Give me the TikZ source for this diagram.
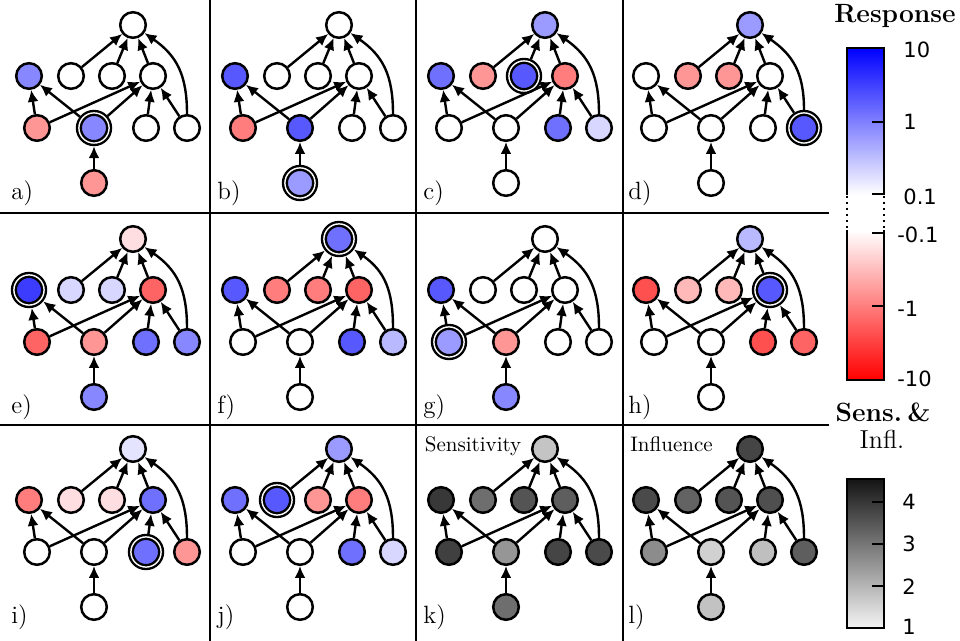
\documentclass[tikz,border=0pt]{standalone}
\usepackage{fontspec}
\newfontfamily\djv{DejaVu Sans}
\usetikzlibrary{arrows.meta}

\definecolor{b1}{RGB}{60,60,255}
\definecolor{b2}{RGB}{88,88,255}
\definecolor{b3}{RGB}{112,112,255}
\definecolor{b4}{RGB}{135,135,255}
\definecolor{b5}{RGB}{155,155,255}
\definecolor{b6}{RGB}{185,185,255}
\definecolor{b7}{RGB}{215,215,255}
\definecolor{b8}{RGB}{228,228,255}
\definecolor{r1}{RGB}{255,80,80}
\definecolor{r2}{RGB}{255,100,100}
\definecolor{r3}{RGB}{255,125,125}
\definecolor{r4}{RGB}{255,150,150}
\definecolor{r5}{RGB}{255,185,185}
\definecolor{r6}{RGB}{255,222,225}
\definecolor{cbblue}{RGB}{0,0,255}
\definecolor{cbbmid}{RGB}{110,110,255}
\definecolor{cbred}{RGB}{255,0,0}
\definecolor{cbrmid}{RGB}{255,125,125}

\tikzset{
  nd/.style={circle,draw,line width=1.25pt,minimum size=12.8pt,inner sep=0pt,outer sep=0.6pt},
  dblnode/.style={double,line width=1.2pt,double distance=0.7pt,minimum size=15.1pt,outer sep=1.55pt},
  dblT/.style={},dblL/.style={},dblM/.style={},dblN/.style={},dblR/.style={},
  dblA/.style={},dblB/.style={},dblC/.style={},dblD/.style={},dblE/.style={},dblX/.style={},
  ar/.style={-{Latex[length=6pt,width=5.5pt]},line width=1.2pt},
  sepline/.style={line width=1.1pt},
  plab/.style={anchor=base west,inner sep=0pt,font=\fontsize{12.5}{14}\selectfont},
  toplab/.style={anchor=base west,inner sep=0pt,font=\fontsize{10.5}{12}\selectfont},
  cbf/.style={line width=1.2pt},
  tick/.style={line width=1pt},
  ticklab/.style={anchor=west,inner sep=0pt,font=\djv\fontsize{10.5}{12}\selectfont},
  head/.style={anchor=base,inner sep=0pt,font=\fontsize{13.2}{15}\selectfont\bfseries},
  headn/.style={anchor=base,inner sep=0pt,font=\fontsize{13}{15}\selectfont}
}

\newcommand\cols[9]{\def\cT{#1}\def\cL{#2}\def\cM{#3}\def\cN{#4}\def\cR{#5}\def\cA{#6}\def\cB{#7}\def\cC{#8}\def\cD{#9}}

\newcommand\netpanel[6]{%
\begin{scope}[shift={(#2,#3)},dbl#6/.style={dblnode}]
  \node[nd,fill=\cT,dblT] (#1T) at (133,25) {};
  \node[nd,fill=\cL,dblL] (#1L) at (29,76) {};
  \node[nd,fill=\cM,dblM] (#1M) at (71,76) {};
  \node[nd,fill=\cN,dblN] (#1N) at (112,76) {};
  \node[nd,fill=\cR,dblR] (#1R) at (153,76) {};
  \node[nd,fill=\cA,dblA] (#1A) at (37,128) {};
  \node[nd,fill=\cB,dblB] (#1B) at (94,128) {};
  \node[nd,fill=\cC,dblC] (#1C) at (146,128) {};
  \node[nd,fill=\cD,dblD] (#1D) at (187,128) {};
  \node[nd,fill=#5,dblE] (#1E) at (94,183) {};
  \draw[ar] (#1M) -- (#1T);
  \draw[ar] (#1N) -- (#1T);
  \draw[ar] (#1R) -- (#1T);
  \draw[ar] (#1D.north) to[out=90,in=-35,looseness=1.1] (#1T);
  \draw[ar] (#1A) -- (#1L);
  \draw[ar] (#1B) -- (#1L);
  \draw[ar] (#1A) -- (#1R);
  \draw[ar] (#1B) -- (#1R);
  \draw[ar] (#1C) -- (#1R);
  \draw[ar] (#1D) -- (#1R);
  \draw[ar] (#1E) -- (#1B);
  \node[plab] (#1lab) at (11,200) {#4};
\end{scope}}

\begin{document}
\begin{tikzpicture}[x=0.5pt,y=-0.5pt]
\useasboundingbox (0,0) rectangle (960,641);
\fill[white] (0,0) rectangle (960,641);

% row 1
\cols{white}{b4}{white}{white}{white}{r4}{b4}{white}{white}
\netpanel{a}{0}{0}{a)}{r4}{B}
\cols{white}{b2}{white}{white}{white}{r3}{b2}{white}{white}
\netpanel{b}{206}{0}{b)}{b5}{E}
\cols{b5}{b3}{r4}{b2}{r3}{white}{white}{b3}{b7}
\netpanel{c}{412}{0}{c)}{white}{N}
\cols{b5}{white}{r4}{r4}{white}{white}{white}{white}{b2}
\netpanel{d}{617}{0}{d)}{white}{D}
% row 2
\cols{r6}{b1}{b7}{b7}{r2}{r2}{r4}{b3}{b4}
\netpanel{e}{0}{214}{e)}{b4}{L}
\cols{b3}{b2}{r3}{r3}{r2}{white}{white}{b2}{b6}
\netpanel{f}{206}{214}{f)}{white}{T}
\cols{white}{b2}{white}{white}{white}{b5}{r4}{white}{white}
\netpanel{g}{412}{214}{g)}{b4}{A}
\cols{b6}{r1}{r5}{r5}{b2}{white}{white}{r1}{r2}
\netpanel{h}{617}{214}{h)}{white}{R}
% row 3
\cols{b8}{r3}{r6}{r6}{b3}{white}{white}{b3}{r4}
\netpanel{i}{0}{424}{i)}{white}{C}
\cols{b5}{b3}{b2}{r4}{r3}{white}{white}{b3}{b7}
\netpanel{j}{206}{424}{j)}{white}{M}
\cols{black!23}{black!78}{black!57}{black!67}{black!63}{black!75}{black!41}{black!73}{black!71}
\netpanel{k}{412}{424}{k)}{black!57}{X}
\cols{black!73}{black!71}{black!61}{black!67}{black!69}{black!45}{black!18}{black!25}{black!63}
\netpanel{l}{617}{424}{l)}{black!24}{X}
\node[toplab] (sens) at (424.5,452) {Sensitivity};
\node[toplab] (infl) at (630,452) {Influence};

% separators
\draw[sepline] (210,0) -- (210,641);
\draw[sepline] (416,0) -- (416,641);
\draw[sepline] (623,0) -- (623,641);
\draw[sepline] (0,213) -- (829,213);
\draw[sepline] (0,425) -- (829,425);

% response colour bar
\node[head] (hresp) at (895,23) {Response};
\shade[top color=cbblue,middle color=cbbmid,bottom color=white] (847,48) rectangle (884,195);
\shade[top color=white,middle color=cbrmid,bottom color=cbred] (847,230) rectangle (884,380);
\draw[cbf] (847,195) -- (847,48) -- (884,48) -- (884,195);
\draw[cbf,dash pattern=on 1.2pt off 1.8pt] (847,196) -- (847,230) (884,196) -- (884,230);
\draw[cbf] (847,230) -- (847,380) -- (884,380) -- (884,230);
\draw[tick] (872,122) -- (884,122);
\draw[tick] (872,194) -- (884,194);
\draw[tick] (872,233) -- (884,233);
\draw[tick] (872,306) -- (884,306);
\node[ticklab] (t10) at (903,50) {10};
\node[ticklab] (t1) at (903,122) {1};
\node[ticklab] (t01) at (903,197) {0.1};
\node[ticklab] (tm01) at (897,235) {-0.1};
\node[ticklab] (tm1) at (897,309) {-1};
\node[ticklab] (tm10) at (897,379) {-10};

% sensitivity/influence colour bar
\node[head] (hsens) at (883,422) {Sens.\kern0.2em\&};
\node[headn] (hinfl) at (882,449) {Infl.};
\shade[top color=black!92,bottom color=black!4] (847,479) rectangle (884,628);
\draw[cbf] (847,479) rectangle (884,628);
\draw[tick] (872,502) -- (884,502);
\draw[tick] (872,544) -- (884,544);
\draw[tick] (872,586) -- (884,586);
\node[ticklab] (g4) at (902,502) {4};
\node[ticklab] (g3) at (902,544) {3};
\node[ticklab] (g2) at (902,587) {2};
\node[ticklab] (g1) at (902,627) {1};
\end{tikzpicture}
\end{document}
